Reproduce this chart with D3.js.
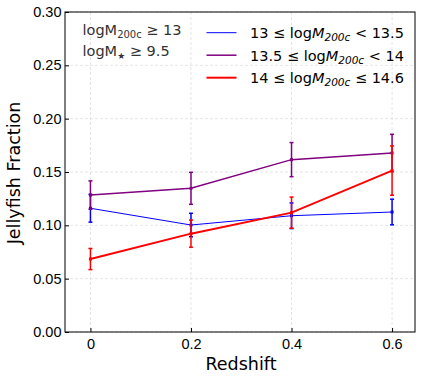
<!DOCTYPE html>
<html>
<head>
<meta charset="utf-8">
<script src="https://cdn.jsdelivr.net/npm/d3@7"></script>
<style>
  body { margin: 0; background: #fff; }
  svg { font-family: "DejaVu Sans", sans-serif; }
  .grid line { stroke: #ddd; stroke-dasharray: 3,2; stroke-width: 0.8; }
  .axis text { font-size: 14.5px; fill: #000; }
  .axis path, .axis line { stroke: #000; }
</style>
</head>
<body>
<svg id="chart"></svg>
<script>
const redshifts = [0, 0.2, 0.4, 0.6];
const xTicks = [0, 0.2, 0.4, 0.6];
const xTickLabels = ['0', '0.2', '0.4', '0.6'];
const yTicks = [0, 0.05, 0.10, 0.15, 0.20, 0.25, 0.30];

const lowMass = [0.116, 0.1003, 0.109, 0.1125];
const lowMassErr = [0.013, 0.011, 0.012, 0.012];
const midMass = [0.1284, 0.1347, 0.1616, 0.1678];
const midMassErr = [0.0133, 0.015, 0.016, 0.0175];
const highMass = [0.0684, 0.0922, 0.1119, 0.1513];
const highMassErr = [0.0099, 0.0127, 0.0146, 0.0231];

const seriesNames = ['13 \u2264 log', '13.5 \u2264 log', '14 \u2264 log'];
const seriesTails = [' < 13.5', ' < 14', ' \u2264 14.6'];
const seriesColors = ['#0000ff', '#800080', '#ff0000'];
const seriesWidths = [1, 1.5, 2];

const config = {
  containerWidth: 424,
  containerHeight: 381,
  margin: {top: 12, right: 9, bottom: 49, left: 65}
};

const width = config.containerWidth - config.margin.left - config.margin.right;
const height = config.containerHeight - config.margin.top - config.margin.bottom;

const svg = d3.select('#chart')
  .attr('width', config.containerWidth)
  .attr('height', config.containerHeight);

const chart = svg.append('g')
  .attr('transform', `translate(${config.margin.left}, ${config.margin.top})`);

const xScale = d3.scaleLinear().domain([-0.0506, 0.6456]).range([0, width]);
const yScale = d3.scaleLinear().domain([0, 0.30]).range([height, 0]);

// grid
chart.append('g').attr('class', 'grid')
  .selectAll('line').data(xTicks).join('line')
  .attr('x1', d => xScale(d)).attr('x2', d => xScale(d))
  .attr('y1', 0).attr('y2', height);
chart.append('g').attr('class', 'grid')
  .selectAll('line').data(yTicks).join('line')
  .attr('x1', 0).attr('x2', width)
  .attr('y1', d => yScale(d)).attr('y2', d => yScale(d));

// axes with inward ticks
const xAxisG = chart.append('g').attr('class', 'axis')
  .attr('transform', `translate(0, ${height})`)
  .call(d3.axisBottom(xScale).tickValues(xTicks)
    .tickFormat((d, i) => xTickLabels[i]).tickSizeInner(-4).tickSizeOuter(0).tickPadding(7));
const yAxisG = chart.append('g').attr('class', 'axis')
  .call(d3.axisLeft(yScale).tickValues(yTicks)
    .tickFormat(d3.format('.2f')).tickSizeInner(-4).tickSizeOuter(0).tickPadding(3.5));
xAxisG.select('.domain').remove();
yAxisG.select('.domain').remove();

// frame
chart.append('rect')
  .attr('width', width).attr('height', height)
  .attr('fill', 'none').attr('stroke', '#000').attr('stroke-width', 1);

// series
const series = [
  {values: lowMass, errs: lowMassErr},
  {values: midMass, errs: midMassErr},
  {values: highMass, errs: highMassErr}
];

const line = d3.line()
  .x((d, i) => xScale(redshifts[i]))
  .y(d => yScale(d));

series.forEach((s, k) => {
  const g = chart.append('g');
  const color = seriesColors[k];
  const pts = s.values.map((v, i) => ({x: redshifts[i], y: v, e: s.errs[i]}));

  g.selectAll('.err').data(pts).join('line')
    .attr('x1', d => xScale(d.x)).attr('x2', d => xScale(d.x))
    .attr('y1', d => yScale(d.y - d.e)).attr('y2', d => yScale(d.y + d.e))
    .attr('stroke', color).attr('stroke-width', 1.5);
  [-1, 1].forEach(sign => {
    g.selectAll('.cap' + sign).data(pts).join('line')
      .attr('x1', d => xScale(d.x) - 2).attr('x2', d => xScale(d.x) + 2)
      .attr('y1', d => yScale(d.y + sign * d.e)).attr('y2', d => yScale(d.y + sign * d.e))
      .attr('stroke', color).attr('stroke-width', 1.5);
  });

  g.append('path').datum(s.values)
    .attr('d', line)
    .attr('fill', 'none')
    .attr('stroke', color)
    .attr('stroke-width', seriesWidths[k]);

  g.selectAll('.pt').data(pts).join('rect')
    .attr('x', d => xScale(d.x) - 1.5).attr('y', d => yScale(d.y) - 1.5)
    .attr('width', 3).attr('height', 3)
    .attr('fill', color);
});

// legend
const legend = chart.append('g');
series.forEach((s, k) => {
  const ly = 20.7 + k * 22.5;
  legend.append('line')
    .attr('x1', 141.5).attr('x2', 171.5)
    .attr('y1', ly).attr('y2', ly)
    .attr('stroke', seriesColors[k]).attr('stroke-width', seriesWidths[k]);
  const t = legend.append('text')
    .attr('x', 185).attr('y', ly + 5.5)
    .style('font-size', '14.5px');
  t.append('tspan').text(seriesNames[k]);
  t.append('tspan').text('M').style('font-style', 'italic');
  t.append('tspan').text('200c').attr('dy', 3).style('font-size', '10.5px').style('font-style', 'italic');
  t.append('tspan').text(seriesTails[k]).attr('dy', -3);
});

// annotation
const ann1 = chart.append('text').attr('x', 17.5).attr('y', 22.5)
  .style('font-size', '14.5px').attr('fill', '#333');
ann1.append('tspan').text('logM');
ann1.append('tspan').text('200c').attr('dy', 3).style('font-size', '10px');
ann1.append('tspan').text(' \u2265 13').attr('dy', -3);
const ann2 = chart.append('text').attr('x', 17.5).attr('y', 44)
  .style('font-size', '14.5px').attr('fill', '#333');
ann2.append('tspan').text('logM');
ann2.append('tspan').text('\u2605').attr('dy', 3).style('font-size', '9px');
ann2.append('tspan').text(' \u2265 9.5').attr('dy', -3);

// axis labels
chart.append('text')
  .attr('x', width / 2 + 1).attr('y', height + 37.5)
  .attr('text-anchor', 'middle')
  .style('font-size', '17.5px')
  .text('Redshift');
chart.append('text')
  .attr('transform', `translate(${-45}, ${height / 2 + 1}) rotate(-90)`)
  .attr('text-anchor', 'middle')
  .style('font-size', '17.5px')
  .text('Jellyfish Fraction');
</script>
</body>
</html>
